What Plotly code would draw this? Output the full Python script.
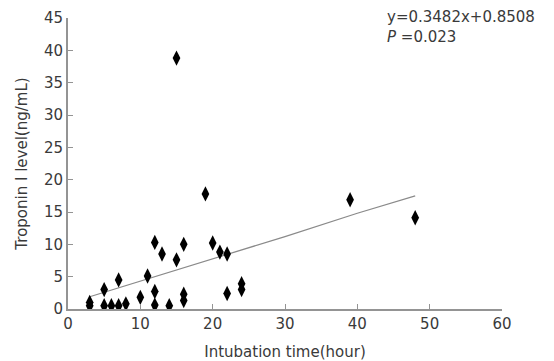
import plotly.graph_objects as go

# Scatter data
intubation_hours = [3, 3, 5, 5, 6, 7, 7, 8, 10, 11, 12, 12, 12, 13, 14, 15, 15,
                    16, 16, 16, 19, 20, 21, 22, 22, 24, 24, 39, 48]
troponin_level = [0.5, 1.0, 3.0, 0.5, 0.5, 4.5, 0.5, 0.8, 1.8, 5.1, 10.3, 2.7, 0.6, 8.5, 0.5, 7.6, 38.8,
                  10.0, 2.3, 1.3, 17.8, 10.2, 8.8, 8.5, 2.4, 3.9, 3.0, 16.9, 14.1]

# Trend line as drawn in the picture
trend_x = [3, 10, 20, 30, 40, 48]
trend_y = [1.9, 4.3, 7.7, 11.2, 14.8, 17.5]

x_ticks = [0, 10, 20, 30, 40, 50, 60]
y_ticks = [0, 5, 10, 15, 20, 25, 30, 35, 40, 45]

equation_text = "y=0.3482x+0.8508"
p_text = "<i>P</i> =0.023"

font_family = "DejaVu Sans, Liberation Sans, sans-serif"
text_color = "#3a3a3a"
axis_color = "#949494"
fs = 15

fig = go.Figure()
fig.add_trace(go.Scatter(x=trend_x, y=trend_y, mode="lines",
                         line=dict(color="#8a8a8a", width=1.2), hoverinfo="skip"))
fig.add_trace(go.Scatter(x=intubation_hours, y=troponin_level, mode="markers",
                         marker=dict(symbol="diamond-tall", size=11, color="black")))

fig.update_layout(
    width=554, height=361,
    margin=dict(l=68, r=52, t=18, b=52),
    paper_bgcolor="white", plot_bgcolor="white",
    showlegend=False,
    font=dict(family=font_family, size=fs, color=text_color),
)
fig.update_xaxes(range=[0, 60], tickvals=x_ticks, showgrid=False, zeroline=False,
                 automargin=False,
                 showline=True, linecolor=axis_color, linewidth=2,
                 ticks="inside", ticklen=5, tickcolor=axis_color, tickwidth=1,
                 tickfont=dict(size=fs, color=text_color),
                 title=dict(text="Intubation time(hour)", standoff=14,
                            font=dict(size=fs, color=text_color)))
fig.update_yaxes(range=[0, 45], tickvals=y_ticks, showgrid=False, zeroline=False,
                 automargin=False,
                 showline=True, linecolor=axis_color, linewidth=2,
                 ticks="inside", ticklen=5, tickcolor=axis_color, tickwidth=1,
                 tickfont=dict(size=fs, color=text_color),
                 title=dict(text="Troponin I level(ng/mL)", standoff=13,
                            font=dict(size=fs, color=text_color)))

fig.add_annotation(xref="paper", yref="paper", x=(385 - 68) / 434, y=(309 - 17) / 291,
                   text=equation_text, showarrow=False, xanchor="left", yanchor="middle",
                   font=dict(size=fs, color=text_color))
fig.add_annotation(xref="paper", yref="paper", x=(385 - 68) / 434, y=(309 - 37) / 291,
                   text=p_text, showarrow=False, xanchor="left", yanchor="middle",
                   font=dict(size=fs, color=text_color))

fig.write_html("out.html")
